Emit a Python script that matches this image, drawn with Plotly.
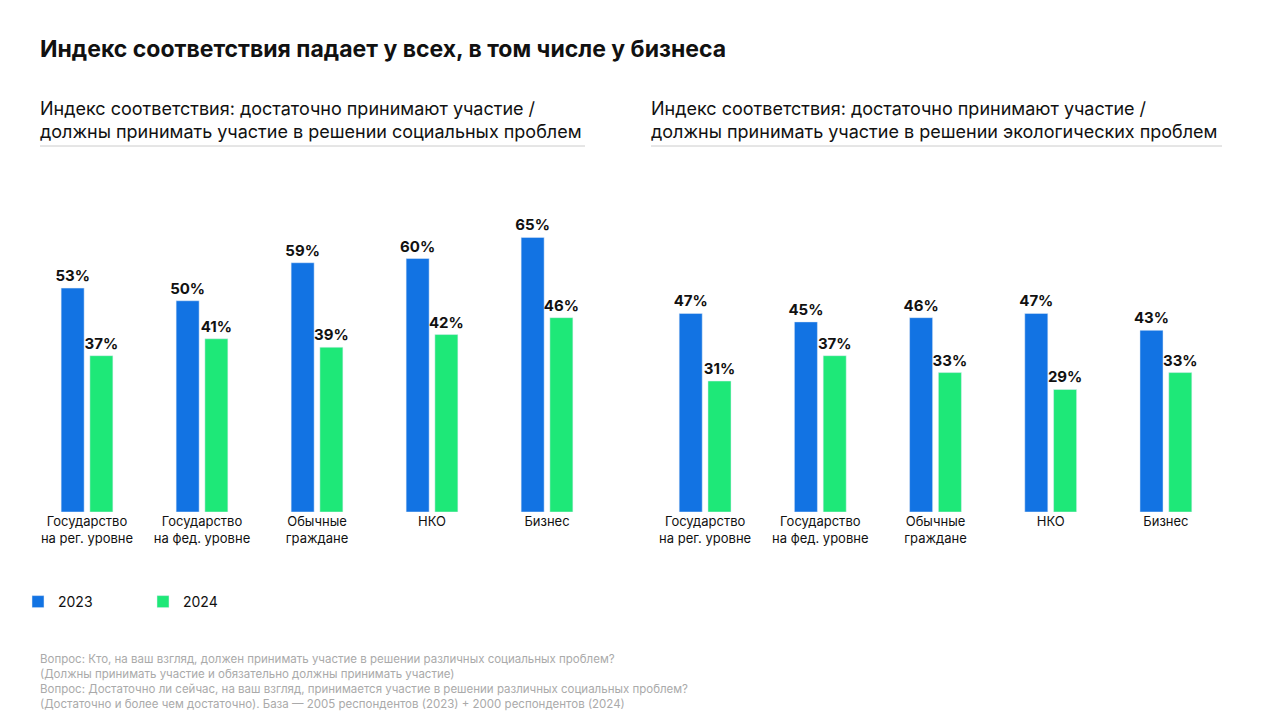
import plotly.graph_objects as go

categories = ["Государство<br>на рег. уровне", "Государство<br>на фед. уровне", "Обычные<br>граждане", "НКО", "Бизнес"]
social_2023 = [53, 50, 59, 60, 65]
social_2024 = [37, 41, 39, 42, 46]
eco_2023 = [47, 45, 46, 47, 43]
eco_2024 = [31, 37, 33, 29, 33]

BLUE = "#1273E3"
GREEN = "#1EE878"
W, H = 1280, 720
OFF = 8  # page margin of the browser

fig = go.Figure()
for xa, ya, v23, v24, show in [("x", "y", social_2023, social_2024, True),
                               ("x2", "y2", eco_2023, eco_2024, False)]:
    for name, vals, col in [("2023", v23, BLUE), ("2024", v24, GREEN)]:
        fig.add_trace(go.Bar(
            x=categories, y=vals, name=name, marker_color=col, xaxis=xa, yaxis=ya,
            text=[f"<b>{v}%</b>" for v in vals], textposition="outside",
            constraintext="none",
            textfont=dict(size=15, color="#111"), cliponaxis=False,
            showlegend=show, legendgroup=name))

def px_x(x):
    return (x - OFF) / W

def px_y(y):
    return 1 - (y - OFF) / H

ydom = [px_y(512), px_y(174)]
axis_common = dict(showgrid=False, zeroline=False, showline=False, ticks="",
                   tickfont=dict(size=13, color="#111"))
fig.update_layout(
    width=W, height=H, margin=dict(l=0, r=0, t=0, b=0),
    paper_bgcolor="white", plot_bgcolor="white",
    font=dict(family="Inter, Roboto, sans-serif", color="#111"),
    barmode="group", bargap=0.5, bargroupgap=0.2,
    xaxis=dict(domain=[px_x(29.5), px_x(604.5)], anchor="y", **axis_common),
    xaxis2=dict(domain=[px_x(647.5), px_x(1223.5)], anchor="y2", **axis_common),
    yaxis=dict(domain=ydom, range=[0, 80], visible=False),
    yaxis2=dict(domain=ydom, range=[0, 80], visible=False, anchor="x2"),
    legend=dict(orientation="h", x=px_x(18), y=px_y(602), xanchor="left", yanchor="middle",
                font=dict(size=14), traceorder="normal", itemwidth=30,
                entrywidth=80),
)

def txt(x, y, s, size, color="#111"):
    fig.add_annotation(x=px_x(x), y=px_y(y), xref="paper", yref="paper", text=s,
                       showarrow=False, xanchor="left", yanchor="top", align="left",
                       font=dict(size=size, color=color))

txt(38, 33, "<b>Индекс соответствия падает у всех, в том числе у бизнеса</b>", 23)
txt(38, 96, "Индекс соответствия: достаточно принимают участие /<br>должны принимать участие в решении социальных проблем", 18)
txt(649, 96, "Индекс соответствия: достаточно принимают участие /<br>должны принимать участие в решении экологических проблем", 18)
for x0, x1 in [(40, 585), (651, 1222)]:
    fig.add_shape(type="line", xref="paper", yref="paper", x0=px_x(x0), x1=px_x(x1),
                  y0=px_y(146), y1=px_y(146), line=dict(color="#cccccc", width=1))
txt(38, 650, "Вопрос: Кто, на ваш взгляд, должен принимать участие в решении различных социальных проблем?<br>"
    "(Должны принимать участие и обязательно должны принимать участие)<br>"
    "Вопрос: Достаточно ли сейчас, на ваш взгляд, принимается участие в решении различных социальных проблем?<br>"
    "(Достаточно и более чем достаточно). База — 2005 респондентов (2023) + 2000 респондентов (2024)", 11.5, "#aaaaaa")

fig.write_html("out.html")
